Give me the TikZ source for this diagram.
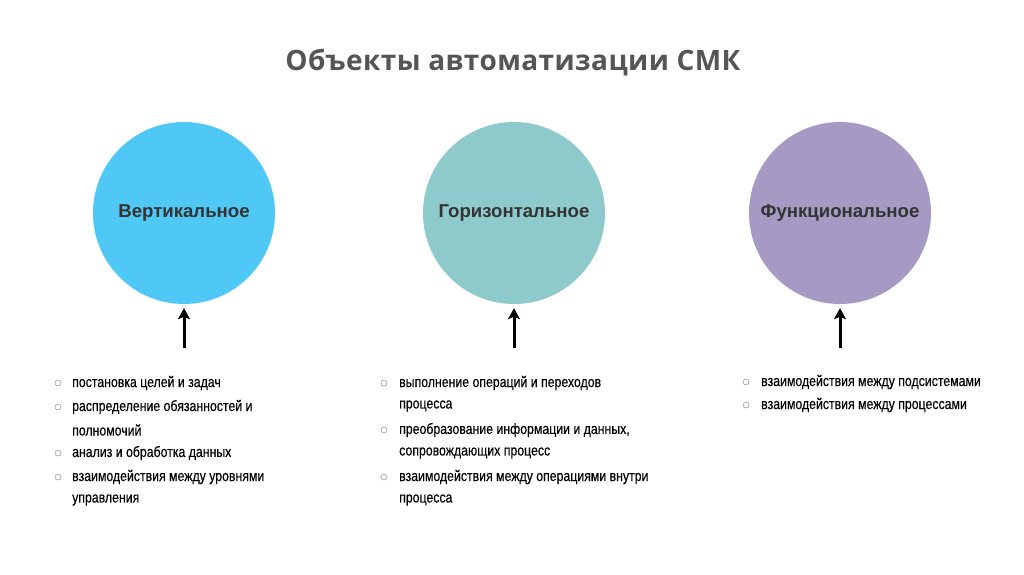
\documentclass[tikz,border=0pt]{standalone}
\usepackage{fontspec}
\setmainfont{Liberation Sans}
\newfontfamily\titlefont[LetterSpace=1.5]{Open Sans}
\newfontfamily\narrowfont[FakeStretch=0.82,FakeBold=0.3]{Liberation Sans}
\usetikzlibrary{arrows.meta}
\definecolor{cblue}{RGB}{80,200,245}
\definecolor{cteal}{RGB}{142,201,204}
\definecolor{cviolet}{RGB}{165,154,195}
\definecolor{titlegray}{RGB}{85,85,85}
\definecolor{labelgray}{RGB}{51,51,51}
\tikzset{
  bigcircle/.style={circle, minimum size=182pt, inner sep=0pt, text=labelgray, font=\fontsize{18.6}{22}\selectfont\bfseries},
  uparrow/.style={-{Stealth[length=11pt,width=12pt,inset=2.5pt]}, line width=3pt, black},
  bulletmark/.style={circle, draw=gray!80, line width=0.6pt, minimum size=6pt, inner sep=0pt},
  itemtext/.style={anchor=west, inner sep=0pt, text=black, font=\narrowfont\fontsize{15}{18}\selectfont}
}
\begin{document}
\begin{tikzpicture}[x=1pt,y=-1pt]
\useasboundingbox (0,0) rectangle (1024,574);
\fill[white] (0,0) rectangle (1024,574);
\node[font=\titlefont\bfseries\fontsize{28}{32}\selectfont, text=titlegray] (title) at (513,62) {Объекты автоматизации СМК};

\node[bigcircle, fill=cblue] (c1) at (184,213) {\raisebox{-1pt}{Вертикальное}};
\node[bigcircle, fill=cteal] (c2) at (514,213) {\raisebox{-1pt}{Горизонтальное}};
\node[bigcircle, fill=cviolet] (c3) at (840,213) {\raisebox{-1pt}{Функциональное}};

\coordinate (a1) at (184,348);
\coordinate (a2) at (514,348);
\coordinate (a3) at (840,348);
\draw[uparrow] (a1) -- ([yshift=-4pt]c1.south);
\draw[uparrow] (a2) -- ([yshift=-4pt]c2.south);
\draw[uparrow] (a3) -- ([yshift=-4pt]c3.south);

% left list
\node[bulletmark] (b11) at (58,383) {};
\node[itemtext] (t11) at (72,383) {постановка целей и задач};
\node[bulletmark] (b12) at (58,407) {};
\node[itemtext] (t12) at (72,407) {распределение обязанностей и};
\node[itemtext] (t12b) at (72,430) {полномочий};
\node[bulletmark] (b13) at (58,453) {};
\node[itemtext] (t13) at (72,453) {анализ и обработка данных};
\node[bulletmark] (b14) at (58,477) {};
\node[itemtext] (t14) at (72,477) {взаимодействия между уровнями};
\node[itemtext] (t14b) at (72,500) {управления};

% middle list
\node[bulletmark] (b21) at (384,383) {};
\node[itemtext] (t21) at (399,383) {выполнение операций и переходов};
\node[itemtext] (t21b) at (399,406) {процесса};
\node[bulletmark] (b22) at (384,430) {};
\node[itemtext] (t22) at (399,430) {преобразование информации и данных,};
\node[itemtext] (t22b) at (399,453) {сопровождающих процесс};
\node[bulletmark] (b23) at (384,477) {};
\node[itemtext] (t23) at (399,477) {взаимодействия между операциями внутри};
\node[itemtext] (t23b) at (399,500) {процесса};

% right list
\node[bulletmark] (b31) at (746,382) {};
\node[itemtext] (t31) at (761,382) {взаимодействия между подсистемами};
\node[bulletmark] (b32) at (746,405) {};
\node[itemtext] (t32) at (761,405) {взаимодействия между процессами};
\end{tikzpicture}
\end{document}
